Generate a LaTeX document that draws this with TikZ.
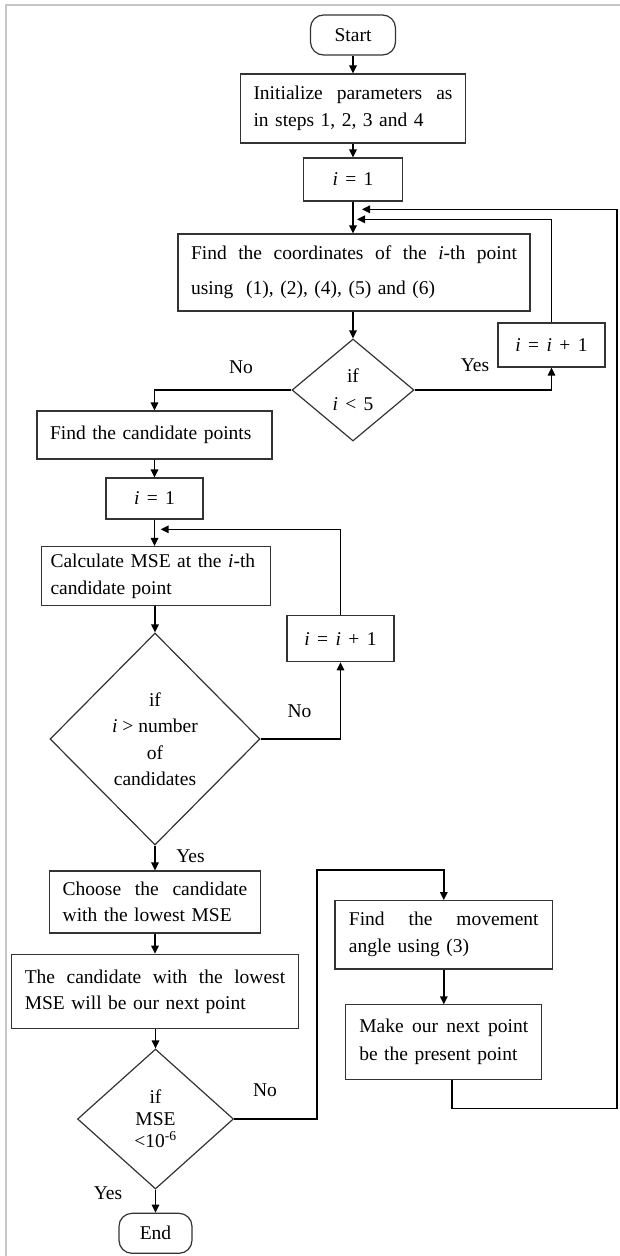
\documentclass[tikz,border=0pt]{standalone}
\usepackage{fontspec}
\setmainfont{Liberation Serif}
\usetikzlibrary{shapes.geometric,arrows.meta,calc}
\newcommand{\gp}{\hspace{0.38em}}
\begin{document}
\begin{tikzpicture}[x=1pt,y=-1pt,
  every node/.style={font=\fontsize{19.5}{27}\selectfont},
  box/.style={draw=black!80, line width=1.2pt, inner ysep=0pt, align=left},
  cbox/.style={draw=black!80, line width=1.2pt, inner sep=0pt, align=center},
  term/.style={cbox, rounded corners=13pt},
  dec/.style={draw=black!80, line width=1.2pt, shape=diamond, inner sep=0pt, align=center},
  arr/.style={line width=1.6pt, -{Triangle[length=8pt,width=7.5pt]}},
  lbl/.style={inner sep=0pt}]
\useasboundingbox (0,0) rectangle (620,1256);
\draw[gray!45, line width=2pt] (6,1256) -- (6,4.5) -- (620,4.5);

% top column
\node[term, minimum width=85pt, minimum height=40pt] (start) at (353,35) {Start};
\node[box, text width=199pt, inner xsep=13pt, minimum height=69pt] (init) at (353,108.5)
  {Initialize\hfill parameters\hfill as\\in steps 1, 2, 3 and 4};
\node[cbox, minimum width=99pt, minimum height=43pt] (i1) at (353,179.5) {\textit{i}\gp=\gp1};
\node[box, text width=326pt, inner xsep=13pt, minimum height=77pt, font=\fontsize{19.5}{35}\selectfont] (find) at (354,272.5)
  {Find\hfill the\hfill coordinates\hfill of\hfill the\hfill \mbox{\textit{i}-th}\hfill point\\using\ \ (1), (2), (4), (5) and (6)};
\node[dec, minimum width=122pt, minimum height=102pt, font=\fontsize{19.5}{28}\selectfont] (d1) at (353,390)
  {if\\\textit{i}\gp<\gp5};
\node[cbox, minimum width=107pt, minimum height=44pt] (inc1) at (551.5,345) {\textit{i}\gp=\gp\textit{i}\gp+\gp1};
\node[lbl] (no1) at (241,367) {No};
\node[lbl] (yes1) at (475,365) {Yes};

% left column
\node[box, text width=209pt, inner xsep=13pt, minimum height=48pt] (cand) at (154.5,435) {Find the candidate points};
\node[cbox, minimum width=97pt, minimum height=41pt] (i2) at (154.5,498.5) {\textit{i}\gp=\gp1};
\node[box, text width=211pt, inner xsep=9pt, minimum height=59pt, font=\fontsize{19.5}{26.7}\selectfont] (calc) at (156,576)
  {Calculate MSE at the \mbox{\textit{i}-th}\\candidate point};
\node[dec, minimum width=210pt, minimum height=212pt, font=\fontsize{19.5}{26.5}\selectfont] (d2) at (155,739)
  {if\\\textit{i} > number\\of\\candidates};
\node[cbox, minimum width=107pt, minimum height=46pt] (inc2) at (340.5,638.7) {\textit{i}\gp=\gp\textit{i}\gp+\gp1};
\node[lbl] (no2) at (299.5,711) {No};
\node[lbl] (yes2) at (190.5,856) {Yes};
\node[box, text width=184.6pt, inner xsep=13pt, minimum height=62pt, font=\fontsize{19.5}{25.7}\selectfont] (choose) at (155,902)
  {Choose\hfill the\hfill candidate\\with the lowest MSE};
\node[box, text width=260.4pt, inner xsep=13.5pt, minimum height=74pt, font=\fontsize{19.5}{26}\selectfont] (low) at (155,991.3)
  {The\hfill candidate\hfill with\hfill the\hfill lowest\\MSE will be our next point};
\node[dec, minimum width=156pt, minimum height=140pt, font=\fontsize{19.5}{22}\selectfont] (d3) at (155.5,1119)
  {if\\MSE\\<10\textsuperscript{-6}};
\node[term, minimum width=73pt, minimum height=40pt] (end) at (155.5,1233.3) {End};
\node[lbl] (no3) at (265,1090) {No};
\node[lbl] (yes3) at (108,1193) {Yes};

% right column
\node[box, text width=189.7pt, inner xsep=14pt, minimum height=68.3pt] (move) at (443.8,934.8)
  {Find\hfill the\hfill movement\\angle using (3)};
\node[box, text width=169pt, inner xsep=13.5pt, minimum height=74.3pt, font=\fontsize{19.5}{28.5}\selectfont] (make) at (443.8,1042)
  {Make\hfill our\hfill next\hfill point\\be the present point};

% helper coordinates
\coordinate (in1) at (357,219.3);
\coordinate (in2) at (362,209.3);
\coordinate (r1) at (616.7,1108.3);
\coordinate (in3) at (160.7,529.3);
\coordinate (k1) at (316.7,870);

% connectors
\draw[arr] (start.south) -- (init.north);
\draw[arr] (init.south) -- (i1.north);
\draw[arr] (i1.south) -- (i1.south |- find.north);
\draw[arr] (d1.north |- find.south) -- (d1.north);
\draw[arr] (d1.east) -| (inc1.south);
\draw[arr] (d1.west) -| (cand.north);
\draw[arr] (inc1.north) |- (in1);
\draw[arr] ([xshift=8pt]make.south) |- (r1) |- (in2);
\draw[arr] (cand.south) -- (i2.north);
\draw[arr] (i2.south) -- (i2.south |- calc.north);
\draw[arr] (d2.north |- calc.south) -- (d2.north);
\draw[arr] (d2.east) -| (inc2.south);
\draw[arr] (inc2.north) |- (in3);
\draw[arr] (d2.south) -- (choose.north);
\draw[arr] (choose.south) -- (low.north);
\draw[arr] (d3.north |- low.south) -- (d3.north);
\draw[arr] (d3.south) -- (d3.south |- end.north);
\draw[arr] (d3.east) -| (k1) -| (move.north);
\draw[arr] (move.south) -- (make.north);
\end{tikzpicture}
\end{document}
